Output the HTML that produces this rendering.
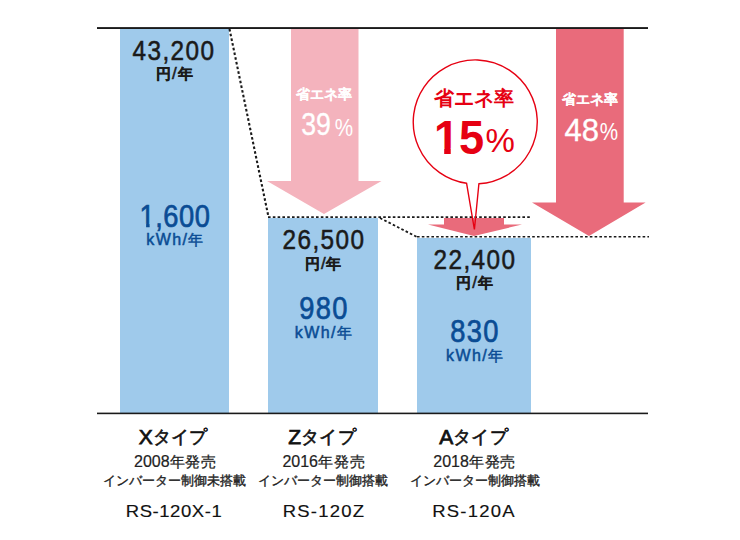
<!DOCTYPE html>
<html><head><meta charset="utf-8">
<style>
html,body{margin:0;padding:0;background:#fff;}
body{width:740px;height:540px;position:relative;overflow:hidden;font-family:"Liberation Sans",sans-serif;}
svg{position:absolute;left:0;top:0;}
.t{position:absolute;white-space:nowrap;text-align:center;line-height:1;width:240px;}
.num{color:#1a1a1a;font-size:27px;-webkit-text-stroke:0.55px #1a1a1a;transform:scaleX(0.9);letter-spacing:1.6px;}
.yen{color:#1a1a1a;font-size:14.5px;font-weight:bold;letter-spacing:0.8px;-webkit-text-stroke:0.3px #1a1a1a;}
.kwh{color:#0a4c94;font-size:31px;-webkit-text-stroke:0.7px #0a4c94;transform:scaleX(0.88);letter-spacing:1.6px;}
.kwhu{color:#0a4c94;font-size:16px;-webkit-text-stroke:0.5px #0a4c94;letter-spacing:1.4px;}
.kwhu span{font-size:14.5px;}
.sl{color:#fff;font-size:13.5px;font-weight:bold;-webkit-text-stroke:0.12px #fff;}
.pc{color:#fff;font-size:31px;-webkit-text-stroke:0.35px #fff;}
.pcs{color:#fff;font-size:22px;}
.cs{color:#e60012;font-size:20px;font-weight:bold;}
.cp{color:#e60012;font-size:48px;font-weight:bold;}
.cq{color:#e60012;font-size:33px;}
.lab1{color:#111;font-size:21px;-webkit-text-stroke:0.75px #111;}
.lab1 span{font-size:17.5px;position:relative;top:-1px;-webkit-text-stroke:0.6px #111;letter-spacing:0.3px;}
.lab2{color:#222;font-size:16px;-webkit-text-stroke:0.2px #222;}
.lab2 span{font-size:15px;letter-spacing:0.8px;position:relative;top:-0.5px;-webkit-text-stroke:0.3px #222;}
.lab3{color:#222;font-size:13px;-webkit-text-stroke:0.35px #222;}
.lab4{color:#111;font-size:16.5px;-webkit-text-stroke:0.15px #111;transform:scaleX(1.12);}
.one{display:inline-block;}
.one.b{clip-path:polygon(0 0,100% 0,100% 72.5%,67% 72.5%,67% 100%,41% 100%,41% 72.5%,0 72.5%);}
.one.r{clip-path:polygon(0 0,100% 0,100% 72.5%,64% 72.5%,64% 100%,42% 100%,42% 72.5%,0 72.5%);}
.yen i{font-style:normal;font-weight:normal;font-size:17px;-webkit-text-stroke:0.5px #1a1a1a;position:relative;top:0.5px;}

</style></head>
<body>
<svg width="740" height="540" viewBox="0 0 740 540">
  <rect x="120" y="29" width="109" height="384" fill="#9fcaeb"/>
  <rect x="268" y="218" width="110" height="195" fill="#9fcaeb"/>
  <rect x="417" y="238" width="114" height="175" fill="#9fcaeb"/>
  <polygon points="291,29 358.5,29 358.5,181 381.5,181 324,214 267,181 291,181" fill="#f4b3bd"/>
  <polygon points="556,29 623.7,29 623.7,202.6 645.6,202.6 589,236 532,202.6 556,202.6" fill="#e96b7b"/>
  <polygon points="444,218 504,218 504,224.5 522,224.5 474,236 428,224.5 444,224.5" fill="#e96b7b"/>
  <rect x="97" y="27.1" width="551" height="1.9" fill="#1a1a1a"/>
  <rect x="97" y="412.6" width="551" height="1.6" fill="#1a1a1a"/>
  <g stroke="#1a1a1a" fill="none" stroke-dasharray="2.6 2.2">
    <line x1="229.5" y1="29" x2="268.5" y2="217" stroke-width="2.1"/>
    <line x1="268" y1="217.1" x2="532" y2="217.1" stroke-width="1.6"/>
    <line x1="380" y1="218" x2="417" y2="237" stroke-width="1.8"/>
    <line x1="417" y1="236.8" x2="649" y2="236.8" stroke-width="1.6"/>
  </g>
  <path d="M466.6,183.3 A62,62 0 1 1 478.9,183.8 L474.4,229.5 Z" fill="none" stroke="#e60012" stroke-width="1.4"/>
</svg>

<div class="t num" id="n1" style="left:54.40px;top:38.40px;">43,200</div>
<div class="t yen" id="y1" style="left:54.80px;top:64.85px;">円<i>/</i>年</div>
<div class="t kwh" id="k1" style="left:55.10px;top:201.20px;letter-spacing:0.6px;"><span class="one r">1</span>,600</div>
<div class="t kwhu" id="u1" style="left:55.50px;top:232.10px;">kWh/<span>年</span></div>
<div class="t num" id="n2" style="left:203.80px;top:227.40px;">26,500</div>
<div class="t yen" id="y2" style="left:203.70px;top:254.60px;">円<i>/</i>年</div>
<div class="t kwh" id="k2" style="left:203.50px;top:292.80px;">980</div>
<div class="t kwhu" id="u2" style="left:204.00px;top:325.25px;">kWh/<span>年</span></div>
<div class="t num" id="n3" style="left:355.20px;top:246.80px;">22,400</div>
<div class="t yen" id="y3" style="left:355.00px;top:273.50px;">円<i>/</i>年</div>
<div class="t kwh" id="k3" style="left:354.80px;top:315.80px;">830</div>
<div class="t kwhu" id="u3" style="left:355.30px;top:347.60px;">kWh/<span>年</span></div>
<div class="t sl" id="s1" style="left:203.60px;top:87.70px;">省エネ率</div>
<div class="t pc" id="p1" style="left:195.70px;top:109.20px;transform:scaleX(0.86);">39</div>
<div class="t pcs" id="q1" style="left:223.80px;top:115.60px;font-size:24px;transform:scaleX(0.86);">%</div>
<div class="t sl" id="s3" style="left:469.80px;top:92.60px;">省エネ率</div>
<div class="t pc" id="p3" style="left:461.70px;top:114.60px;">48</div>
<div class="t pcs" id="q3" style="left:489.00px;top:120.00px;font-size:24px;transform:scaleX(0.86);">%</div>
<div class="t cs" id="sc" style="left:354.40px;top:88.30px;">省エネ率</div>
<div class="t cp" id="pc" style="left:339.20px;top:113.80px;transform:scaleX(0.94);"><span class="one b">1</span>5</div>
<div class="t cq" id="qc" style="left:380.10px;top:124.40px;">%</div>
<div class="t lab1" id="lx1" style="left:53.10px;top:426.30px;">X<span>タイプ</span></div>
<div class="t lab2" id="lx2" style="left:55.50px;top:454.05px;">2008<span>年発売</span></div>
<div class="t lab3" id="lx3" style="left:54.00px;top:474.25px;">インバーター制御未搭載</div>
<div class="t lab4" id="lx4" style="left:54.30px;top:502.85px;letter-spacing:0.5px;">RS-120X-1</div>
<div class="t lab1" id="lz1" style="left:202.20px;top:426.30px;">Z<span>タイプ</span></div>
<div class="t lab2" id="lz2" style="left:203.90px;top:454.05px;">2016<span>年発売</span></div>
<div class="t lab3" id="lz3" style="left:203.10px;top:474.25px;">インバーター制御搭載</div>
<div class="t lab4" id="lz4" style="left:203.80px;top:502.85px;letter-spacing:1.1px;">RS-120Z</div>
<div class="t lab1" id="la1" style="left:353.60px;top:426.30px;">A<span>タイプ</span></div>
<div class="t lab2" id="la2" style="left:354.80px;top:454.05px;">2018<span>年発売</span></div>
<div class="t lab3" id="la3" style="left:354.50px;top:474.25px;">インバーター制御搭載</div>
<div class="t lab4" id="la4" style="left:354.00px;top:502.85px;letter-spacing:1.1px;">RS-120A</div>
</body></html>
